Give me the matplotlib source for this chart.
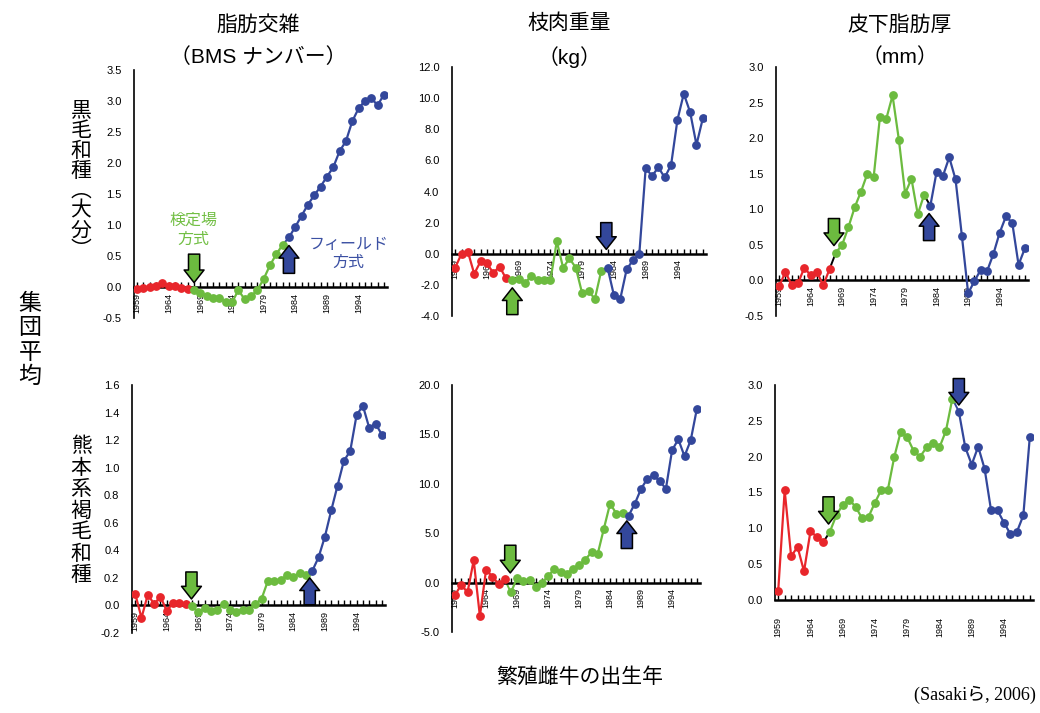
import numpy as np
import matplotlib.pyplot as plt

plt.rcParams['font.family'] = ['Liberation Sans', 'Noto Sans CJK JP']
plt.rcParams['axes.unicode_minus'] = True

years = np.arange(1959, 1999)

# 黒毛和種（大分）
bms_oita = [-0.04, -0.02, 0.00, 0.02, 0.06, 0.02, 0.02, -0.01, -0.04,
            -0.05, -0.10, -0.15, -0.18, -0.18, -0.24, -0.25, -0.05, -0.20, -0.15,
            -0.05, 0.13, 0.35, 0.53, 0.68,
            0.80, 0.97, 1.15, 1.33, 1.48, 1.62, 1.78, 1.93, 2.19, 2.35, 2.67,
            2.88, 3.00, 3.05, 2.93, 3.10]
carcass_oita = [-0.9, 0.0, 0.13, -1.29, -0.49, -0.62, -1.23, -0.82, -1.59,
                -1.70, -1.65, -1.90, -1.40, -1.70, -1.70, -1.70, 0.80, -0.90, -0.30,
                -0.90, -2.55, -2.40, -2.90, -1.10,
                -0.90, -2.67, -2.90, -1.01, -0.41, 0.0, 5.50, 5.00, 5.55, 4.90,
                5.70, 8.60, 10.28, 9.10, 7.00, 8.70]
fat_oita = [-0.08, 0.12, -0.07, -0.04, 0.18, 0.07, 0.12, -0.07, 0.16,
            0.39, 0.50, 0.75, 1.03, 1.25, 1.50, 1.45, 2.30, 2.27, 2.60,
            1.98, 1.22, 1.43, 0.93, 1.20,
            1.05, 1.53, 1.47, 1.73, 1.42, 0.63, -0.18, -0.01, 0.15, 0.13,
            0.37, 0.67, 0.90, 0.81, 0.22, 0.45]

# 熊本系褐毛和種
bms_kuma = [0.086, -0.09, 0.079, 0.01, 0.064, -0.04, 0.02, 0.015, 0.01,
            -0.005, -0.05, -0.02, -0.04, -0.03, 0.01, -0.03, -0.045, -0.03, -0.03,
            0.01, 0.05, 0.18, 0.18, 0.185, 0.22, 0.21, 0.235, 0.22,
            0.25, 0.35, 0.50, 0.69, 0.87, 1.05, 1.12, 1.38, 1.45, 1.29, 1.32, 1.24]
carcass_kuma = [-1.25, -0.2, -1.0, 2.26, -3.41, 1.32, 0.6, -0.14, 0.34,
                -1.0, 0.47, 0.17, 0.3, -0.47, 0.0, 0.64, 1.39, 1.08, 0.91,
                1.39, 1.76, 2.33, 3.07, 2.9, 5.47, 8.0, 6.99, 7.06,
                6.79, 8.0, 9.5, 10.5, 10.85, 10.27, 9.5, 13.4, 14.5, 12.8, 14.4, 17.6]
fat_kuma = [0.13, 1.53, 0.61, 0.74, 0.40, 0.96, 0.88, 0.81,
            0.95, 1.18, 1.33, 1.40, 1.30, 1.14, 1.16, 1.36, 1.54, 1.54, 2.00,
            2.35, 2.27, 2.08, 2.00, 2.13, 2.19, 2.13, 2.36, 2.81,
            2.63, 2.13, 1.89, 2.14, 1.83, 1.25, 1.25, 1.08, 0.92, 0.95, 1.18, 2.27]

# 検定場方式 / フィールド方式 に切り替わった年
green_start = [1968, 1968, 1968, 1968, 1968, 1967]
blue_start = [1983, 1983, 1983, 1987, 1987, 1987]

titles = ['脂肪交雑\n（BMS ナンバー）', '枝肉重量\n（kg）', '皮下脂肪厚\n（mm）']
series = [bms_oita, carcass_oita, fat_oita, bms_kuma, carcass_kuma, fat_kuma]

RED = '#e8262b'
GREEN = '#6cbb3f'
BLUE = '#33479b'

W, H = 1040, 713
fig = plt.figure(figsize=(W / 100, H / 100), dpi=100)

# left, right, top, bottom in pixels
boxes = [(134, 387, 70, 318), (452, 706, 67, 316), (776, 1028, 67, 316),
         (132, 385, 385, 633), (452, 700, 385, 632), (775, 1033, 385, 600)]
ylims = [(-0.5, 3.5), (-4, 12), (-0.5, 3.0), (-0.2, 1.6), (-5, 20), (0, 3.0)]
ysteps = [0.5, 2.0, 0.5, 0.2, 5.0, 0.5]
black_link = [False, False, True, False, False, True]

# (x, tail, tip) for the two arrows of each panel
green_arrows = [(1968, 0.53, 0.07), (1968, -3.91, -2.19), (1967.7, 0.87, 0.49),
                (1967.9, 0.243, 0.047), (1967.9, 3.78, 0.98), (1966.8, 1.44, 1.06)]
blue_arrows = [(1983, 0.22, 0.67), (1982.8, 2.0, 0.28), (1982.8, 0.56, 0.94),
               (1986.6, 0.005, 0.2), (1986.7, 3.45, 6.25), (1987.0, 3.09, 2.72)]

for i, vals in enumerate(series):
    l, r, t, b = boxes[i]
    ax = fig.add_axes([l / W, 1 - b / H, (r - l) / W, (b - t) / H])
    vals = np.array(vals)
    g = green_start[i] - 1959
    bl = blue_start[i] - 1959

    link1 = 'black' if black_link[i] else GREEN
    link2 = 'black' if (black_link[i] and i == 2) else BLUE
    ax.plot(years[g - 1:g + 1], vals[g - 1:g + 1], color=link1, lw=1.4, zorder=2)
    ax.plot(years[bl - 1:bl + 1], vals[bl - 1:bl + 1], color=link2, lw=1.4, zorder=2)
    for sl, c in [(slice(0, g), RED), (slice(g, bl), GREEN), (slice(bl, None), BLUE)]:
        ax.plot(years[sl], vals[sl], color=c, lw=1.6, marker='o', ms=5.3,
                mec=c, mfc=c, zorder=3)

    ax.set_xlim(1958.5, 1998.5)
    ax.set_ylim(*ylims[i])
    lo, hi = ylims[i]
    yt = np.arange(lo, hi + ysteps[i] / 2, ysteps[i])
    ax.set_yticks(yt)
    ax.set_yticklabels(['%.1f' % v for v in yt])

    ax.set_xticks(np.arange(1959, 1998, 5))
    ax.set_xticks(years, minor=True)
    ax.set_xticklabels([str(y) for y in range(1959, 1998, 5)])

    for s in ['top', 'right']:
        ax.spines[s].set_visible(False)
    ax.spines['bottom'].set_position(('data', 0))
    ax.spines['bottom'].set_linewidth(1.8)
    ax.spines['left'].set_linewidth(1.2)
    ax.patch.set_alpha(0)

    xpad = 12 if i == 5 else 4
    ax.tick_params(axis='x', which='both', direction='in', length=3.5, width=1)
    ax.tick_params(axis='x', which='major', labelsize=6.5, pad=xpad,
                   labelrotation=90)
    ax.tick_params(axis='y', length=0, labelsize=8, pad=9)

    for (x, tail, tip), fc in [(green_arrows[i], GREEN), (blue_arrows[i], BLUE)]:
        ax.annotate('', xy=(x, tip), xytext=(x, tail),
                    arrowprops=dict(arrowstyle='simple,head_length=0.7,head_width=1.1,tail_width=0.62',
                                    mutation_scale=13, fc=fc, ec='black', lw=1.1,
                                    shrinkA=0, shrinkB=0), zorder=5)

    if i == 0:
        ax.text(1967.9, 0.92, '検定場\n方式', color='#72bf44', fontsize=11.5,
                ha='center', va='center', linespacing=1.3)
        ax.text(1992.4, 0.54, 'フィールド\n方式', color='#3b50a3', fontsize=11.5,
                ha='center', va='center', linespacing=1.3)

# column titles
for x, txt in zip([258, 569, 900], titles):
    fig.text(x / W, 1 - 41 / H, txt, ha='center', va='center', fontsize=15,
             linespacing=1.75)

# row labels, written vertically
fig.text(81 / W, 1 - 181 / H, '\n'.join('黒毛和種︵大分︶'), ha='center', va='center',
         fontsize=15, linespacing=1.06)
fig.text(81 / W, 1 - 511 / H, '\n'.join('熊本系褐毛和種'), ha='center', va='center',
         fontsize=15, linespacing=1.16)
fig.text(30 / W, 1 - 340 / H, '\n'.join('集団平均'), ha='center', va='center',
         fontsize=16.5, linespacing=1.08)

fig.text(580 / W, 1 - 677 / H, '繁殖雌牛の出生年', ha='center', va='center', fontsize=15)
fig.text(1036 / W, 1 - 695 / H, '(Sasakiら, 2006)', ha='right', va='center',
         fontsize=13, family=['Liberation Serif', 'Noto Sans CJK JP'])

fig.savefig('out.png', dpi=100)
